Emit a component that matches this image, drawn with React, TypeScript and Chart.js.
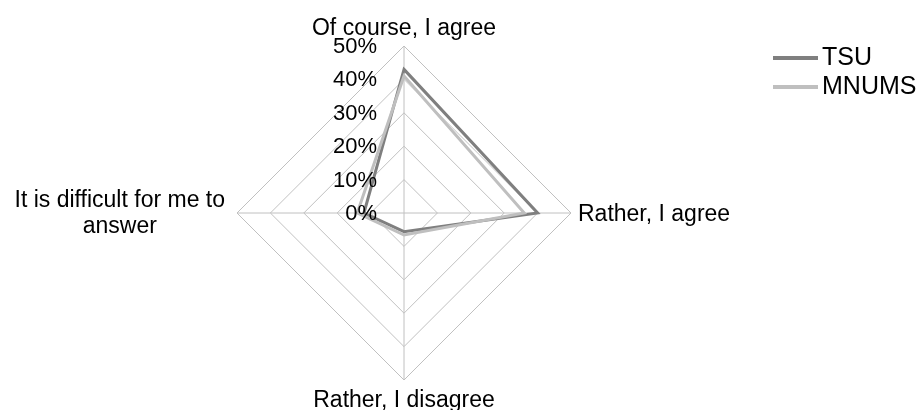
import React, { useEffect, useRef } from "react";
import { Chart, registerables } from "chart.js";

Chart.register(...registerables);

const categories: (string | string[])[] = [
  "Of course, I agree",
  "Rather, I agree",
  "Rather, I disagree",
  ["It is difficult for me to", "answer"],
];
const tsuValues = [43, 40, 5.6, 12];
const mnumsValues = [41, 36, 6.6, 14];
const seriesNames = ["TSU", "MNUMS"];
const seriesColors = ["#7f7f7f", "#bfbfbf"];
const tickMax = 50;
const tickStep = 10;

const FONT = '"Liberation Sans", Arial, sans-serif';

const labelsPlugin = {
  id: "customLabels",
  afterDraw(chart: any) {
    const ctx = chart.ctx;
    const scale = chart.scales.r;
    const cx = scale.xCenter;
    const cy = scale.yCenter;
    ctx.save();
    ctx.fillStyle = "#000";

    // tick labels, right aligned left of the vertical axis
    ctx.font = `22px ${FONT}`;
    ctx.textAlign = "right";
    ctx.textBaseline = "middle";
    scale.ticks.forEach((t: any) => {
      const d = scale.getDistanceFromCenterForValue(t.value);
      ctx.fillText(`${t.value}%`, cx - 27, cy - d + 1);
    });

    // point labels
    ctx.font = `23px ${FONT}`;
    ctx.textBaseline = "alphabetic";
    chart.data.labels.forEach((lab: any, i: number) => {
      const p = scale.getPointPosition(i, scale.drawingArea);
      const lines: string[] = Array.isArray(lab) ? lab : [lab];
      const dx = p.x - cx;
      const dy = p.y - cy;
      if (Math.abs(dx) < 2 && dy < 0) {
        ctx.textAlign = "center";
        ctx.fillText(lines[0], p.x, p.y - 11);
      } else if (Math.abs(dx) < 2 && dy > 0) {
        ctx.textAlign = "center";
        ctx.fillText(lines[0], p.x, p.y + 27);
      } else if (dx > 0) {
        ctx.textAlign = "left";
        ctx.fillText(lines[0], p.x + 7, p.y + 8);
      } else {
        const maxW = Math.max(...lines.map((l) => ctx.measureText(l).width));
        const centerX = p.x - 12 - maxW / 2;
        ctx.textAlign = "center";
        lines.forEach((l, k) => {
          ctx.fillText(l, centerX, p.y - 6 + k * 26);
        });
      }
    });

    // legend
    ctx.font = `25px ${FONT}`;
    ctx.textAlign = "left";
    ctx.textBaseline = "middle";
    chart.data.datasets.forEach((ds: any, i: number) => {
      const y = 58 + i * 29;
      ctx.strokeStyle = ds.borderColor;
      ctx.lineWidth = 4;
      ctx.beginPath();
      ctx.moveTo(773, y);
      ctx.lineTo(818, y);
      ctx.stroke();
      ctx.fillStyle = "#000";
      ctx.fillText(ds.label, 822, y);
    });
    ctx.restore();
  },
};

export default function App() {
  const ref = useRef<HTMLCanvasElement | null>(null);
  useEffect(() => {
    if (!ref.current) return;
    const chart = new Chart(ref.current, {
      type: "radar",
      data: {
        labels: categories,
        datasets: [
          {
            label: seriesNames[0],
            data: tsuValues,
            borderColor: seriesColors[0],
            backgroundColor: seriesColors[0],
            borderWidth: 3,
            pointRadius: 0,
            fill: false,
            tension: 0,
            order: 1,
          },
          {
            label: seriesNames[1],
            data: mnumsValues,
            borderColor: seriesColors[1],
            backgroundColor: seriesColors[1],
            borderWidth: 3,
            pointRadius: 0,
            fill: false,
            tension: 0,
            order: 0,
          },
        ],
      },
      options: {
        responsive: false,
        animation: false,
        layout: { padding: { left: 237, top: 46, right: 350, bottom: 30 } },
        plugins: { legend: { display: false }, tooltip: { enabled: false } },
        scales: {
          r: {
            min: 0,
            max: tickMax,
            ticks: { stepSize: tickStep, display: false },
            pointLabels: { display: false },
            grid: { color: "#c0c0c0", lineWidth: 1, circular: false },
            angleLines: { color: "#c0c0c0", lineWidth: 1 },
          },
        },
      },
      plugins: [labelsPlugin],
    });
    return () => chart.destroy();
  }, []);
  return (
    <div style={{ position: "absolute", left: 0, top: 0, width: 921, height: 410, background: "#fff" }}>
      <canvas ref={ref} width={921} height={410} />
    </div>
  );
}
